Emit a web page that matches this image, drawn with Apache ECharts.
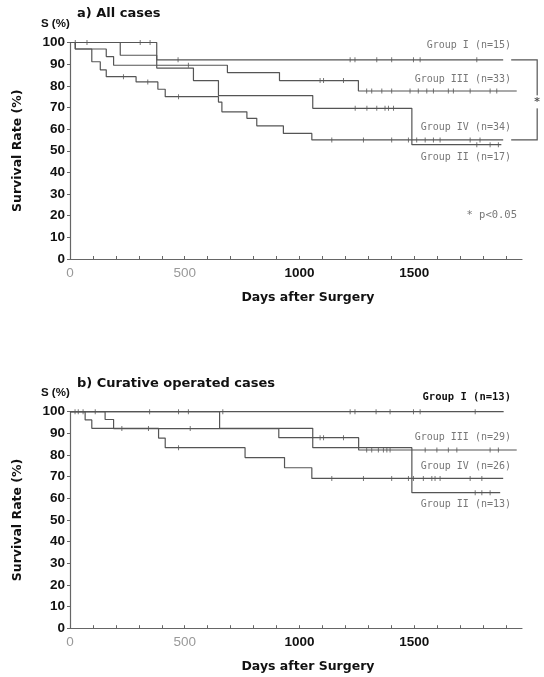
<!DOCTYPE html>
<html>
<head>
<meta charset="utf-8">
<script src="https://cdn.jsdelivr.net/npm/echarts@6/dist/echarts.min.js"></script>
<style>
  html, body { margin: 0; padding: 0; background: #fff; }
  #km_con { width: 544px; height: 677px; }
</style>
</head>
<body>
<div id="km_con"></div>
<script>
// survival curves, [day, S%] at each step
const groupI_a   = [[0,100],[378,92],[1888,92]];
const groupII_a  = [[0,100],[219,94.1],[378,88.2],[538,82.4],[647,75.5],[1058,69.6],[1490,52.8],[1880,52.8]];
const groupIII_a = [[0,100],[23,97],[158,93.5],[190,89.5],[686,86.1],[913,82.4],[1257,77.6],[1947,77.6]];
const groupIV_a  = [[0,100],[23,97],[95,91.1],[132,87.4],[158,84.2],[288,81.8],[383,78.4],[415,75],[647,72.5],[662,68],[771,65],[814,61.5],[930,58],[1054,55],[1888,55]];

const groupI_b   = [[0,100],[1890,100]];
const groupII_b  = [[0,100],[652,92.3],[1058,83.4],[1490,62.6],[1875,62.6]];
const groupIII_b = [[0,100],[153,96.4],[190,92.2],[910,88],[1258,82.3],[1947,82.3]];
const groupIV_b  = [[0,100],[66,96.2],[95,92.3],[386,87.8],[415,83.4],[763,78.8],[935,74.1],[1054,69.2],[1888,69.2]];

// censored cases (days)
const censorI_a   = [23,74,306,349,471,1221,1242,1337,1402,1497,1526,1773];
const censorII_a  = [1243,1294,1337,1373,1388,1410,1773,1831,1867];
const censorIII_a = [516,1090,1105,1192,1293,1315,1359,1402,1482,1518,1555,1584,1649,1671,1744,1831,1860];
const censorIV_a  = [233,339,473,1141,1279,1402,1475,1511,1548,1584,1613,1744,1787];

const censorI_b   = [22,36,57,110,347,473,516,666,1221,1242,1334,1395,1497,1526,1766];
const censorII_b  = [1766,1795,1831];
const censorIII_b = [226,342,524,1090,1105,1192,1293,1315,1344,1366,1381,1395,1548,1599,1649,1686,1831,1867];
const censorIV_b  = [473,1141,1279,1402,1475,1497,1540,1577,1591,1613,1744,1795];

const labels_a = ['Group I (n=15)', 'Group II (n=17)', 'Group III (n=33)', 'Group IV (n=34)'];
const labels_b = ['Group I (n=13)', 'Group II (n=13)', 'Group III (n=29)', 'Group IV (n=26)'];

const xTicks = [0, 500, 1000, 1500];

const lineColor = '#555';
const axisColor = '#666';
const numFont = 'Liberation Sans';

function valueAt(curve, day) {
    let v = curve[0][1];
    for (let i = 0; i < curve.length; i++) {
        if (curve[i][0] <= day) v = curve[i][1];
    }
    return v;
}

function xAxisCfg(idx) {
    return {
        gridIndex: idx, type: 'value', min: 0, max: 1970, interval: 100,
        axisLine: { lineStyle: { color: axisColor, width: 1.2 } },
        axisTick: { inside: true, length: 3, lineStyle: { color: axisColor } },
        splitLine: { show: false },
        axisLabel: {
            margin: 7, showMaxLabel: false,
            formatter: function (v) {
                if (xTicks.indexOf(v) < 0) return '';
                return v < 1000 ? '{g|' + v + '}' : '{b|' + v + '}';
            },
            rich: {
                g: { fontFamily: numFont, fontSize: 13.5, color: '#999' },
                b: { fontFamily: numFont, fontSize: 13.5, fontWeight: 'bold', color: '#111' }
            }
        }
    };
}

function yAxisCfg(idx) {
    return {
        gridIndex: idx, type: 'value', min: 0, max: 100, interval: 10,
        axisLine: { show: true, lineStyle: { color: axisColor, width: 1.2 } },
        axisTick: { show: true, length: 3, lineStyle: { color: axisColor } },
        splitLine: { show: false },
        axisLabel: { margin: 5, fontFamily: numFont, fontSize: 13.5, fontWeight: 'bold', color: '#111' }
    };
}

function panelSeries(idx, curves, censors) {
    const out = [];
    curves.forEach(function (c) {
        out.push({
            type: 'line', step: 'end', xAxisIndex: idx, yAxisIndex: idx,
            data: c, symbol: 'none', silent: true,
            lineStyle: { color: lineColor, width: 1.2 }
        });
    });
    censors.forEach(function (days, k) {
        out.push({
            type: 'scatter', xAxisIndex: idx, yAxisIndex: idx, silent: true,
            data: days.map(function (d) { return [d, valueAt(curves[k], d)]; }),
            symbol: 'rect', symbolSize: [1, 5],
            itemStyle: { color: lineColor }
        });
    });
    return out;
}

const curves_a = [groupI_a, groupII_a, groupIII_a, groupIV_a];
const curves_b = [groupI_b, groupII_b, groupIII_b, groupIV_b];

const kmChart = echarts.init(document.getElementById('km_con'));
kmChart.setOption({
    animation: false,
    backgroundColor: '#fff',
    grid: [
        { left: 70, right: 22, top: 42.5, height: 216.5 },
        { left: 70, right: 22, top: 411.7, height: 216.5 }
    ],
    xAxis: [xAxisCfg(0), xAxisCfg(1)],
    yAxis: [yAxisCfg(0), yAxisCfg(1)],
    series: panelSeries(0, curves_a, [censorI_a, censorII_a, censorIII_a, censorIV_a])
        .concat(panelSeries(1, curves_b, [censorI_b, censorII_b, censorIII_b, censorIV_b]))
});

// annotations, placed from the data through the axes
function py(grid, v) { return kmChart.convertToPixel({ gridIndex: grid }, [0, v])[1]; }
function px(grid, d) { return kmChart.convertToPixel({ gridIndex: grid }, [d, 0])[0]; }

const boldFont = 'bold 13px "DejaVu Sans"';
const groupFont = '10px "DejaVu Sans Mono"';
const graphics = [];

function addText(x, y, text, font, color, align, extra) {
    graphics.push(Object.assign({
        type: 'text', x: x, y: y, silent: true,
        style: { text: text, font: font, fill: color, align: align || 'left', verticalAlign: 'middle' }
    }, extra || {}));
}

[0, 1].forEach(function (g) {
    const top = py(g, 100), bottom = py(g, 0);
    addText(77, top - 28.5, g === 0 ? 'a) All cases' : 'b) Curative operated cases', boldFont, '#111');
    addText(41, top - 19, 'S (%)', 'bold 11.5px "Liberation Sans"', '#111');
    addText(18, (top + bottom) / 2, 'Survival Rate (%)', 'bold 12.5px "DejaVu Sans"', '#111', 'center',
        { rotation: Math.PI / 2 });
    addText(308, bottom + 39, 'Days after Surgery', 'bold 12.5px "DejaVu Sans"', '#111', 'center');
});

const offs_a = [-14, 13, -12, -13];
const offs_b = [-14, 12, -13, -12];
[[curves_a, labels_a, offs_a], [curves_b, labels_b, offs_b]].forEach(function (p, g) {
    p[0].forEach(function (c, k) {
        const last = c[c.length - 1][1];
        const dark = (g === 1 && k === 0);
        addText(511, py(g, last) + p[2][k], p[1][k],
            dark ? 'bold 10.5px "DejaVu Sans Mono"' : groupFont, dark ? '#111' : '#777', 'right');
    });
});

addText(517, py(0, 20), '* p<0.05', '10.5px "DejaVu Sans Mono"', '#777', 'right');

// bracket between Group I and Group IV (panel a)
const bx0 = px(0, groupI_a[groupI_a.length - 1][0]) + 8;
const bx1 = bx0 + 26;
const byI = py(0, groupI_a[groupI_a.length - 1][1]);
const byIV = py(0, groupIV_a[groupIV_a.length - 1][1]);
graphics.push({
    type: 'polyline', silent: true,
    shape: { points: [[bx0, byI], [bx1, byI], [bx1, byIV], [bx0, byIV]] },
    style: { stroke: lineColor, lineWidth: 1.2, fill: null }
});
graphics.push({
    type: 'text', x: bx1, y: (byI + byIV) / 2 + 2, silent: true, z: 10,
    style: { text: '*', font: 'bold 11px "DejaVu Sans Mono"', fill: '#555', align: 'center', verticalAlign: 'middle',
        backgroundColor: '#fff', padding: [1, 1] }
});

kmChart.setOption({ graphic: graphics });
</script>
</body>
</html>
